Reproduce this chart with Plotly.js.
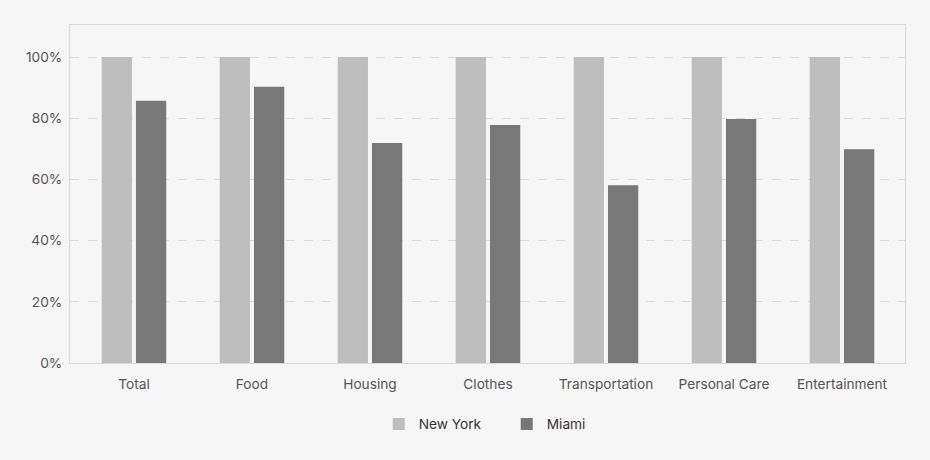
<!DOCTYPE html>
<html>
<head>
<meta charset="utf-8">
<script src="https://cdn.plot.ly/plotly-3.0.1.min.js"></script>
<style>
html,body{margin:0;padding:0;background:#f6f6f6;}
#chart{width:930px;height:460px;}
</style>
</head>
<body>
<div id="chart"></div>
<script>
const categories = ["Total", "Food", "Housing", "Clothes", "Transportation", "Personal Care", "Entertainment"];
const newYork = [100, 100, 100, 100, 100, 100, 100];
const miami = [85.7, 90.3, 71.9, 77.8, 58.1, 79.8, 69.9];
const yTickVals = [0, 20, 40, 60, 80, 100];
const yTickText = ["0%", "20%", "40%", "60%", "80%", "100%"];

const traces = [
  {type: "bar", name: "New York", x: categories, y: newYork, marker: {color: "#bebebe"}, hoverinfo: "skip"},
  {type: "bar", name: "Miami", x: categories, y: miami, marker: {color: "#787878"}, hoverinfo: "skip"}
];

const layout = {
  width: 930, height: 460,
  paper_bgcolor: "#f6f6f6", plot_bgcolor: "#f6f6f6",
  font: {family: "Inter, 'Noto Sans', sans-serif", size: 13.7, color: "#555"},
  margin: {l: 70, r: 25, t: 25, b: 97},
  barmode: "group",
  bargap: 0.419,
  bargroupgap: 0.117,
  showlegend: true,
  legend: {orientation: "h", x: 0.523, xanchor: "center", y: -0.135, yanchor: "top",
           font: {size: 13.7, color: "#333"}, itemwidth: 30, entrywidth: 83},
  xaxis: {
    range: [-0.542, 6.534], showgrid: false, zeroline: false,
    showline: true, mirror: true, linecolor: "#d9d9d9", linewidth: 1,
    ticks: "", tickfont: {size: 13.7, color: "#555"}, ticklabelstandoff: 9, fixedrange: true
  },
  yaxis: {
    range: [0, 110.5], tickvals: yTickVals, ticktext: yTickText,
    showgrid: true, gridcolor: "#dcdcdc", griddash: "dash", gridwidth: 1,
    zeroline: false, showline: true, mirror: true, linecolor: "#d9d9d9", linewidth: 1,
    ticks: "", tickfont: {size: 13.7, color: "#555"}, ticklabelstandoff: 4, fixedrange: true
  }
};

Plotly.newPlot("chart", traces, layout, {displayModeBar: false, staticPlot: true});
</script>
</body>
</html>
